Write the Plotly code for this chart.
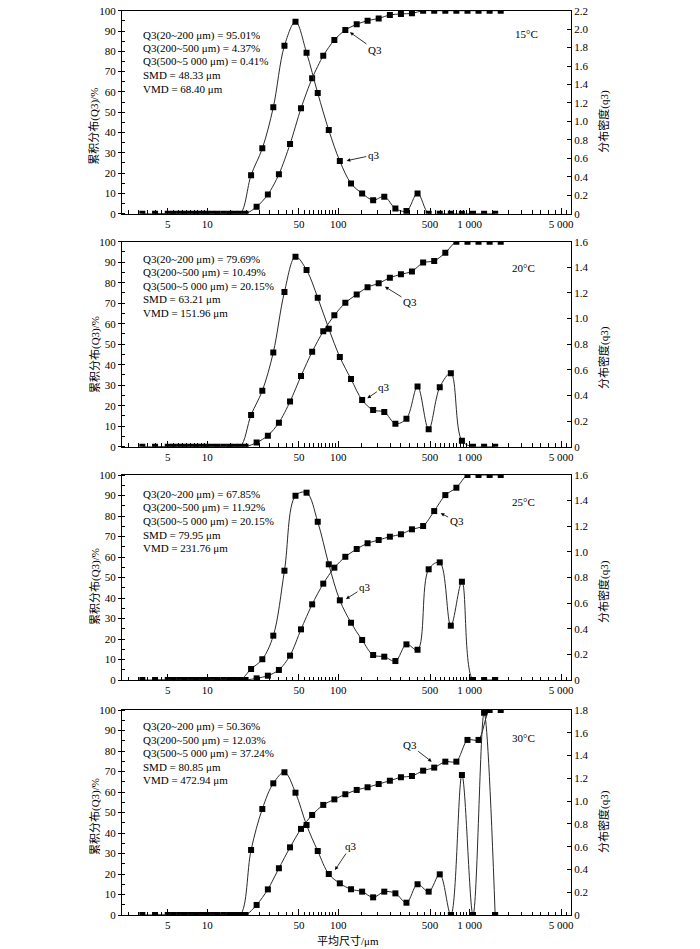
import plotly.graph_objects as go

# ---------------- data ----------------
# particle size classes (µm): q3 at class mid-points, Q3 at class upper bounds
q3_sizes = [4.0, 5.5, 6.7, 8.2, 9.9, 12.0, 14.7, 17.8, 21.6, 26.3, 31.9, 38.8, 47.1, 57.2,
            69.6, 84.5, 102.6, 124.9, 151.8, 184.1, 223.9, 272.2, 330.5, 401.6, 488.2,
            593.2, 720.6, 875.3, 1063.5, 1291.9, 1569.5]
Q3_sizes = [3.2, 5.0, 6.1, 7.4, 9.0, 10.9, 13.3, 16.2, 19.6, 23.8, 29.0, 35.2, 42.8, 51.9,
            63.1, 76.7, 93.2, 113, 138, 167, 203, 247, 300, 364, 443, 538, 654, 794, 965,
            1172, 1424, 1730]

temps = ["15°C", "20°C", "25°C", "30°C"]

q3_15 = [0, 0, 0, 0, 0, 0, 0, 0, 0.418, 0.708, 1.153, 1.82, 2.08, 1.745, 1.307, 0.906, 0.57,
         0.328, 0.22, 0.147, 0.185, 0.057, 0.029, 0.22, 0, 0, 0, 0, 0, 0, 0]
Q3_15 = [0, 0, 0, 0, 0, 0, 0, 0, 0, 3.4, 9.4, 19.4, 34.3, 51.9, 66.7, 77.8, 85.6, 90.5, 93.3,
         95.1, 96.2, 97.9, 98.4, 98.7, 100, 100, 100, 100, 100, 100, 100, 100]

q3_20 = [0, 0, 0, 0, 0, 0, 0, 0, 0.248, 0.437, 0.736, 1.208, 1.483, 1.379, 1.163, 0.921, 0.70,
         0.528, 0.365, 0.286, 0.271, 0.18, 0.219, 0.47, 0.136, 0.464, 0.573, 0.046, 0, 0, 0]
Q3_20 = [0, 0, 0, 0, 0, 0, 0, 0, 0, 2.0, 5.4, 11.7, 22.0, 34.5, 46.3, 56.3, 64.1, 70.2, 74.3,
         77.8, 79.7, 82.4, 84.1, 85.5, 89.8, 90.6, 94.6, 100, 100, 100, 100, 100]

q3_25 = [0, 0, 0, 0, 0, 0, 0, 0, 0.086, 0.162, 0.346, 0.853, 1.438, 1.462, 1.235, 0.903, 0.622,
         0.447, 0.312, 0.195, 0.182, 0.148, 0.278, 0.236, 0.864, 0.918, 0.424, 0.767, 0, 0, 0]
Q3_25 = [0, 0, 0, 0, 0, 0, 0, 0, 0, 0.8, 2.1, 4.9, 11.9, 24.7, 36.9, 47.0, 54.8, 60.1, 63.9,
         66.7, 68.3, 69.9, 71.1, 73.5, 75.1, 82.4, 90.2, 93.8, 100, 100, 100, 100]

q3_30 = [0, 0, 0, 0, 0, 0, 0, 0, 0.571, 0.931, 1.156, 1.253, 1.074, 0.79, 0.562, 0.36, 0.278,
         0.226, 0.205, 0.155, 0.205, 0.19, 0.108, 0.27, 0.205, 0.357, 0, 1.229, 0, 1.776, 0]
Q3_30 = [0, 0, 0, 0, 0, 0, 0, 0, 0, 4.9, 12.5, 22.8, 33.0, 42.0, 48.8, 53.7, 56.4, 58.9, 61.0,
         62.3, 63.9, 65.5, 67.2, 67.8, 70.4, 71.9, 74.8, 74.8, 85.4, 85.4, 100, 100]

stats_15 = ["Q3(20~200 μm) = 95.01%", "Q3(200~500 μm) = 4.37%", "Q3(500~5 000 μm) = 0.41%",
            "SMD = 48.33 μm", "VMD = 68.40 μm"]
stats_20 = ["Q3(20~200 μm) = 79.69%", "Q3(200~500 μm) = 10.49%", "Q3(500~5 000 μm) = 20.15%",
            "SMD = 63.21 μm", "VMD = 151.96 μm"]
stats_25 = ["Q3(20~200 μm) = 67.85%", "Q3(200~500 μm) = 11.92%", "Q3(500~5 000 μm) = 20.15%",
            "SMD = 79.95 μm", "VMD = 231.76 μm"]
stats_30 = ["Q3(20~200 μm) = 50.36%", "Q3(200~500 μm) = 12.03%", "Q3(500~5 000 μm) = 37.24%",
            "SMD = 80.85 μm", "VMD = 472.94 μm"]

right_max = [2.2, 1.6, 1.6, 1.8]
right_ticks_22 = [0, 0.2, 0.4, 0.6, 0.8, 1.0, 1.2, 1.4, 1.6, 1.8, 2.0, 2.2]
right_text_22 = ["0", "0.2", "0.4", "0.6", "0.8", "1.0", "1.2", "1.4", "1.6", "1.8", "2.0", "2.2"]
right_ticks_16 = [0, 0.2, 0.4, 0.6, 0.8, 1.0, 1.2, 1.4, 1.6]
right_text_16 = ["0", "0.2", "0.4", "0.6", "0.8", "1.0", "1.2", "1.4", "1.6"]
right_ticks_18 = [0, 0.2, 0.4, 0.6, 0.8, 1.0, 1.2, 1.4, 1.6, 1.8]
right_text_18 = ["0", "0.2", "0.4", "0.6", "0.8", "1.0", "1.2", "1.4", "1.6", "1.8"]

left_ticks = [0, 10, 20, 30, 40, 50, 60, 70, 80, 90, 100]
x_ticks = [5, 10, 50, 100, 500, 1000, 5000]
x_text = ["5", "10", "50", "100", "500", "1 000", "5 000"]
x_minor = [2.5, 3, 3.5, 4, 4.5, 5.5, 6, 6.5, 7, 7.5, 8, 8.5, 9, 9.5,
           15, 20, 25, 30, 35, 40, 45, 55, 60, 65, 70, 75, 80, 85, 90, 95,
           150, 200, 250, 300, 350, 400, 450, 550, 600, 650, 700, 750, 800, 850, 900, 950,
           1500, 2000, 2500, 3000, 3500, 4000, 4500, 5500]

panels = [
    (q3_15, Q3_15, stats_15, right_ticks_22, right_text_22),
    (q3_20, Q3_20, stats_20, right_ticks_16, right_text_16),
    (q3_25, Q3_25, stats_25, right_ticks_16, right_text_16),
    (q3_30, Q3_30, stats_30, right_ticks_18, right_text_18),
]

# ---------------- layout helpers (pixel geometry) ----------------
W, H = 700, 949
ML, MR, MT, MB = 122, 129, 10, 34
PW, PH = W - ML - MR, H - MT - MB


def fx(px):
    return (px - ML) / PW


def fy(py):
    return 1 - (py - MT) / PH


panel_px = [(10.7, 213.7), (241.7, 446.7), (475, 680), (710, 915)]
stats_top = [35, 259.3, 494.3, 726.7]
temp_pos = [(526.7, 34.3), (523.5, 267.7), (523.5, 502.3), (523, 738.3)]
left_title_y = [126.7, 355, 587, 817]
right_title_y = [121.7, 358, 592, 822]
# arrows: (label, head_x, head_y, ax, ay)
arrows = [
    [("Q3", 350, 32.3, 25, 17.7), ("q3", 346.7, 160.7, 27, -5.7)],
    [("Q3", 385, 286.7, 25, 15.5), ("q3", 367.3, 398.3, 17, -11.6)],
    [("Q3", 440.7, 513.3, 16, 8), ("q3", 346, 599, 19, -12)],
    [("Q3", 431.7, 761.7, -22, -17), ("q3", 335, 870, 16, -24)],
]

FONT = "Liberation Serif, Times New Roman, Noto Sans CJK SC, serif"
LINEC = "#2a2a2a"

fig = go.Figure()
layout = dict(
    width=W, height=H,
    margin=dict(l=ML, r=MR, t=MT, b=MB, pad=0, autoexpand=False),
    paper_bgcolor="white", plot_bgcolor="white",
    showlegend=False, hovermode=False,
    font=dict(family=FONT, size=11, color="black"),
)
annotations = []

for i, (q3v, Q3v, stats, rticks, rtext) in enumerate(panels):
    xid = "x" if i == 0 else f"x{i + 1}"
    ylid = "y" if i == 0 else f"y{2 * i + 1}"
    yrid = f"y{2 * i + 2}"
    xkey = "xaxis" if i == 0 else f"xaxis{i + 1}"
    ylkey = "yaxis" if i == 0 else f"yaxis{2 * i + 1}"
    yrkey = f"yaxis{2 * i + 2}"
    top, bot = panel_px[i]

    fig.add_trace(go.Scatter(
        x=q3_sizes, y=q3v, xaxis=xid, yaxis=yrid, mode="lines+markers",
        line=dict(color=LINEC, width=1, shape="spline", smoothing=1.0),
        marker=dict(symbol="square", size=6, color="black"),
    ))
    fig.add_trace(go.Scatter(
        x=Q3_sizes, y=Q3v, xaxis=xid, yaxis=ylid, mode="lines+markers",
        line=dict(color=LINEC, width=1, shape="spline", smoothing=0.8),
        marker=dict(symbol="square", size=6, color="black"),
    ))

    layout[xkey] = dict(
        type="log", range=[0.350, 3.774], domain=[0, 1], anchor=ylid,
        automargin=False,
        showline=True, linecolor="black", linewidth=1, mirror=True,
        showgrid=False, zeroline=False,
        tickmode="array", tickvals=x_ticks, ticktext=x_text,
        ticks="inside", ticklen=6, tickwidth=1, tickcolor="black",
        minor=dict(tickmode="array", tickvals=x_minor, ticks="inside",
                   ticklen=3.5, tickwidth=1, tickcolor="black", showgrid=False),
        tickfont=dict(family=FONT, size=11),
    )
    layout[ylkey] = dict(
        range=[0, 100], domain=[fy(bot), fy(top)], anchor=xid,
        automargin=False,
        showline=True, linecolor="black", linewidth=1,
        showgrid=False, zeroline=False,
        tickmode="array", tickvals=left_ticks,
        ticks="outside", ticklen=3, tickwidth=1, tickcolor="black",
        minor=dict(dtick=5, ticks="inside", ticklen=3, tickwidth=1,
                   tickcolor="black", showgrid=False),
        tickfont=dict(family=FONT, size=11),
    )
    layout[yrkey] = dict(
        range=[0, right_max[i]], overlaying=ylid, side="right", anchor=xid,
        automargin=False,
        showline=True, linecolor="black", linewidth=1,
        showgrid=False, zeroline=False,
        tickmode="array", tickvals=rticks, ticktext=rtext,
        ticks="inside", ticklen=4, tickwidth=1, tickcolor="black",
        tickfont=dict(family=FONT, size=11),
    )

    for k, line in enumerate(stats):
        annotations.append(dict(
            x=fx(141), y=fy(stats_top[i] + 13.4 * k), xref="paper", yref="paper",
            text=line, showarrow=False, xanchor="left", yanchor="middle",
            font=dict(family=FONT, size=11),
        ))
    tx, ty = temp_pos[i]
    annotations.append(dict(
        x=fx(tx), y=fy(ty), xref="paper", yref="paper", text=temps[i],
        showarrow=False, xanchor="center", yanchor="middle",
        font=dict(family=FONT, size=11),
    ))
    annotations.append(dict(
        x=fx(95), y=fy(left_title_y[i]), xref="paper", yref="paper",
        text="累积分布(Q3)/%", textangle=-90, showarrow=False,
        xanchor="center", yanchor="middle", font=dict(family=FONT, size=11),
    ))
    annotations.append(dict(
        x=fx(604), y=fy(right_title_y[i]), xref="paper", yref="paper",
        text="分布密度(q3)", textangle=-90, showarrow=False,
        xanchor="center", yanchor="middle", font=dict(family=FONT, size=11),
    ))
    for (lab, hx, hy, ax, ay) in arrows[i]:
        annotations.append(dict(
            x=fx(hx), y=fy(hy), xref="paper", yref="paper", text=lab,
            showarrow=True, ax=ax, ay=ay, arrowhead=2, arrowsize=0.9,
            arrowwidth=0.8, arrowcolor="black", standoff=0,
            font=dict(family=FONT, size=11),
        ))

annotations.append(dict(
    x=fx(348), y=fy(940), xref="paper", yref="paper", text="平均尺寸/μm",
    showarrow=False, xanchor="center", yanchor="middle",
    font=dict(family=FONT, size=11),
))

layout["annotations"] = annotations
fig.update_layout(**layout)
fig.write_html("out.html",
               config=dict(displayModeBar=False, staticPlot=True),
               post_script="document.body.style.margin='0';document.body.style.overflow='hidden';")
